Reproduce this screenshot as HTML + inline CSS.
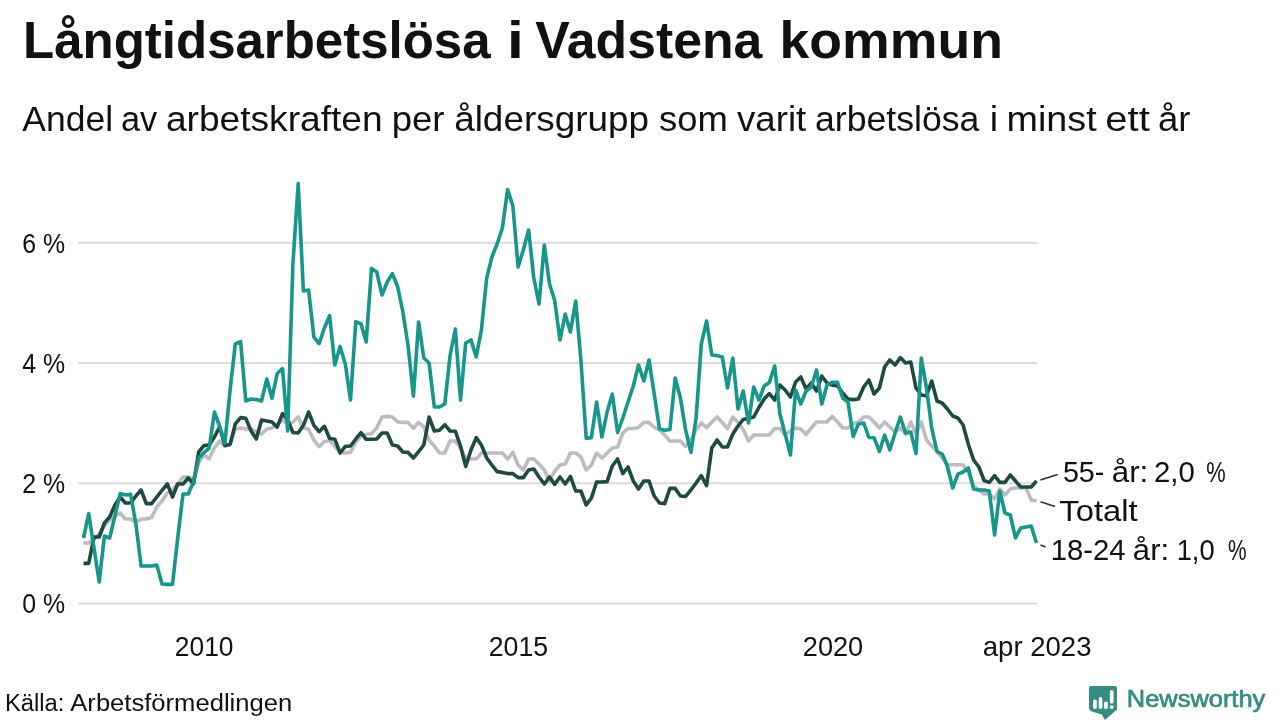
<!DOCTYPE html>
<html><head><meta charset="utf-8">
<style>
html,body{margin:0;padding:0;background:#fff;}
body{width:1280px;height:720px;overflow:hidden;position:relative;font-family:"Liberation Sans",sans-serif;}
svg{position:absolute;left:0;top:0;will-change:transform;}
text{font-family:"Liberation Sans",sans-serif;fill:#111;}
</style></head><body>
<svg width="1280" height="720" viewBox="0 0 1280 720">
<g stroke="#dbdbde" stroke-width="2"><line x1="78.3" y1="242.85" x2="1037" y2="242.85"/><line x1="78.3" y1="363.1" x2="1037" y2="363.1"/><line x1="78.3" y1="483.2" x2="1037" y2="483.2"/><line x1="78.3" y1="603.5" x2="1037" y2="603.5"/></g>
<g fill="none" stroke-width="3.6" stroke-linejoin="round" stroke-linecap="butt">
<polyline stroke="#bdbcc3" points="83.5,543.0 88.7,543.0 94.0,539.0 99.2,534.0 104.4,526.0 109.7,520.0 114.9,516.0 120.2,513.0 125.4,519.0 130.6,519.0 135.9,522.4 141.1,519.0 146.3,519.0 151.6,517.6 156.8,507.0 162.0,501.0 167.3,493.0 172.5,490.0 177.7,484.0 183.0,477.0 188.2,477.0 193.5,479.0 198.7,462.5 203.9,455.0 209.2,458.8 214.4,448.0 219.6,441.0 224.9,446.0 230.1,444.0 235.3,429.0 240.6,428.0 245.8,429.0 251.1,429.0 256.3,432.0 261.5,434.0 266.8,429.0 272.0,428.0 277.2,424.3 282.5,420.0 287.7,423.7 292.9,422.3 298.2,416.8 303.4,427.7 308.6,429.2 313.9,440.0 319.1,446.7 324.4,441.5 329.6,440.7 334.8,446.4 340.1,452.4 345.3,453.0 350.5,452.4 355.8,442.0 361.0,436.0 366.2,434.2 371.5,433.7 376.7,427.7 382.0,417.0 387.2,416.4 392.4,417.0 397.7,422.0 402.9,422.4 408.1,422.4 413.4,428.2 418.6,422.4 423.8,427.0 429.1,440.0 434.3,446.0 439.5,453.0 444.8,453.0 450.0,441.0 455.3,441.0 460.5,448.0 465.7,458.0 471.0,459.0 476.2,459.0 481.4,453.0 486.7,453.0 491.9,453.0 497.1,453.0 502.4,453.0 507.6,459.0 512.9,452.4 518.1,465.0 523.3,470.0 528.6,459.0 533.8,459.0 539.0,464.0 544.3,470.0 549.5,481.0 554.7,471.0 560.0,465.0 565.2,464.0 570.4,453.0 575.7,453.0 580.9,457.0 586.2,470.0 591.4,465.0 596.6,453.0 601.9,458.0 607.1,453.0 612.3,448.0 617.6,447.0 622.8,433.0 628.0,428.5 633.3,428.5 638.5,427.5 643.8,422.4 649.0,422.4 654.2,427.3 659.5,429.8 664.7,435.0 669.9,441.0 675.2,441.0 680.4,441.0 685.6,446.4 690.9,440.0 696.1,430.0 701.3,422.7 706.6,427.8 711.8,422.0 717.1,417.0 722.3,422.5 727.5,428.5 732.8,417.0 738.0,422.2 743.2,429.5 748.5,441.0 753.7,435.0 758.9,435.0 764.2,435.0 769.4,435.0 774.7,428.5 779.9,428.5 785.1,435.0 790.4,431.0 795.6,428.0 800.8,429.0 806.1,434.4 811.3,428.0 816.5,422.0 821.8,422.0 827.0,422.0 832.2,416.4 837.5,422.0 842.7,428.0 848.0,428.0 853.2,424.0 858.4,422.0 863.7,417.0 868.9,417.0 874.1,422.0 879.4,428.0 884.6,422.0 889.8,427.0 895.1,432.0 900.3,428.0 905.6,434.0 910.8,422.0 916.0,434.0 921.3,422.0 926.5,440.0 931.7,446.0 937.0,451.5 942.2,458.0 947.4,464.5 952.7,464.7 957.9,464.7 963.1,465.0 968.4,473.0 973.6,486.0 978.9,490.0 984.1,494.0 989.3,494.0 994.6,499.0 999.8,489.0 1005.0,495.0 1010.3,489.0 1015.5,488.0 1020.7,488.0 1026.0,488.0 1031.2,500.0 1036.5,501.0"/>
<polyline stroke="#1d4b42" points="83.5,563.4 88.7,563.4 94.0,537.0 99.2,537.0 104.4,523.0 109.7,517.0 114.9,505.0 120.2,497.0 125.4,503.0 130.6,503.0 135.9,496.0 141.1,490.0 146.3,503.6 151.6,503.6 156.8,497.0 162.0,490.4 167.3,484.0 172.5,497.0 177.7,484.0 183.0,484.0 188.2,478.0 193.5,484.0 198.7,452.0 203.9,445.6 209.2,445.0 214.4,437.0 219.6,427.0 224.9,445.6 230.1,444.4 235.3,424.0 240.6,417.6 245.8,418.4 251.1,431.0 256.3,439.0 261.5,420.0 266.8,421.0 272.0,422.0 277.2,427.2 282.5,413.6 287.7,420.0 292.9,432.5 298.2,433.0 303.4,425.3 308.6,412.0 313.9,425.3 319.1,431.7 324.4,426.3 329.6,438.5 334.8,439.2 340.1,453.0 345.3,446.4 350.5,446.0 355.8,439.0 361.0,432.7 366.2,439.3 371.5,439.3 376.7,439.0 382.0,433.0 387.2,433.0 392.4,445.0 397.7,446.0 402.9,452.0 408.1,452.4 413.4,458.0 418.6,451.6 423.8,445.0 429.1,417.0 434.3,431.0 439.5,430.2 444.8,424.7 450.0,431.0 455.3,431.2 460.5,446.0 465.7,466.4 471.0,450.0 476.2,437.6 481.4,445.0 486.7,458.0 491.9,465.0 497.1,471.6 502.4,472.4 507.6,473.6 512.9,473.6 518.1,477.6 523.3,477.6 528.6,470.0 533.8,469.0 539.0,477.0 544.3,484.0 549.5,477.0 554.7,484.4 560.0,477.0 565.2,484.0 570.4,476.4 575.7,491.0 580.9,491.0 586.2,505.0 591.4,498.0 596.6,482.0 601.9,482.0 607.1,481.6 612.3,466.0 617.6,459.0 622.8,473.6 628.0,467.0 633.3,481.0 638.5,489.0 643.8,481.0 649.0,481.0 654.2,496.0 659.5,503.0 664.7,503.6 669.9,488.4 675.2,488.4 680.4,496.0 685.6,496.4 690.9,490.0 696.1,483.0 701.3,475.6 706.6,485.6 711.8,448.0 717.1,440.0 722.3,447.0 727.5,447.0 732.8,434.0 738.0,426.0 743.2,419.5 748.5,418.2 753.7,417.0 758.9,407.5 764.2,399.0 769.4,393.6 774.7,400.0 779.9,385.0 785.1,390.0 790.4,397.0 795.6,382.0 800.8,377.0 806.1,389.0 811.3,383.0 816.5,391.0 821.8,376.0 827.0,383.0 832.2,385.0 837.5,386.0 842.7,393.0 848.0,399.0 853.2,399.6 858.4,399.0 863.7,387.0 868.9,380.0 874.1,394.0 879.4,388.0 884.6,367.0 889.8,360.0 895.1,365.0 900.3,357.6 905.6,363.0 910.8,362.0 916.0,388.0 921.3,395.0 926.5,396.0 931.7,381.0 937.0,401.0 942.2,403.0 947.4,409.0 952.7,416.0 957.9,418.0 963.1,425.0 968.4,444.5 973.6,460.0 978.9,467.0 984.1,480.5 989.3,482.4 994.6,475.6 999.8,482.4 1005.0,482.4 1010.3,475.0 1015.5,481.0 1020.7,487.0 1026.0,487.0 1031.2,487.0 1036.5,481.0"/>
<polyline stroke="#17968a" points="83.5,538.0 88.7,513.6 94.0,548.0 99.2,582.0 104.4,536.0 109.7,538.0 114.9,516.0 120.2,493.6 125.4,495.0 130.6,494.4 135.9,524.0 141.1,566.0 146.3,566.0 151.6,566.0 156.8,565.0 162.0,584.0 167.3,584.4 172.5,584.4 177.7,538.0 183.0,494.0 188.2,494.0 193.5,482.0 198.7,458.1 203.9,452.6 209.2,448.1 214.4,412.0 219.6,426.0 224.9,443.0 230.1,390.0 235.3,344.0 240.6,341.6 245.8,401.0 251.1,399.0 256.3,399.6 261.5,401.0 266.8,379.0 272.0,398.2 277.2,373.5 282.5,368.7 287.7,431.0 292.9,264.0 298.2,183.6 303.4,291.0 308.6,290.0 313.9,337.0 319.1,343.6 324.4,328.0 329.6,315.6 334.8,365.0 340.1,346.4 345.3,364.0 350.5,400.0 355.8,321.6 361.0,324.0 366.2,342.0 371.5,268.4 376.7,272.0 382.0,295.0 387.2,282.0 392.4,273.6 397.7,287.0 402.9,312.0 408.1,346.0 413.4,396.0 418.6,322.0 423.8,358.0 429.1,363.0 434.3,407.0 439.5,407.0 444.8,404.0 450.0,356.0 455.3,329.0 460.5,400.0 465.7,343.0 471.0,340.0 476.2,357.0 481.4,330.0 486.7,278.0 491.9,257.0 497.1,244.0 502.4,228.0 507.6,189.6 512.9,206.0 518.1,267.0 523.3,250.0 528.6,230.0 533.8,278.0 539.0,304.0 544.3,245.0 549.5,284.0 554.7,300.5 560.0,340.0 565.2,314.0 570.4,332.0 575.7,301.0 580.9,360.0 586.2,438.4 591.4,437.6 596.6,402.0 601.9,437.0 607.1,412.0 612.3,394.0 617.6,432.5 622.8,418.0 628.0,402.0 633.3,386.0 638.5,365.0 643.8,381.0 649.0,360.0 654.2,394.0 659.5,428.8 664.7,430.2 669.9,429.5 675.2,378.0 680.4,398.0 685.6,430.0 690.9,452.4 696.1,418.0 701.3,344.0 706.6,321.0 711.8,355.0 717.1,355.6 722.3,357.0 727.5,388.0 732.8,358.0 738.0,409.0 743.2,391.0 748.5,423.0 753.7,387.0 758.9,400.0 764.2,386.0 769.4,382.4 774.7,366.0 779.9,414.0 785.1,434.0 790.4,455.0 795.6,390.0 800.8,404.0 806.1,391.0 811.3,387.0 816.5,370.0 821.8,404.0 827.0,385.0 832.2,382.4 837.5,382.4 842.7,398.0 848.0,402.0 853.2,436.5 858.4,424.0 863.7,423.0 868.9,437.5 874.1,437.8 879.4,451.5 884.6,435.0 889.8,450.0 895.1,433.0 900.3,417.0 905.6,433.0 910.8,432.0 916.0,453.5 921.3,358.0 926.5,388.0 931.7,428.0 937.0,451.5 942.2,454.0 947.4,466.5 952.7,488.0 957.9,474.2 963.1,472.0 968.4,468.0 973.6,489.0 978.9,490.0 984.1,490.0 989.3,491.0 994.6,535.0 999.8,491.0 1005.0,513.0 1010.3,515.0 1015.5,538.0 1020.7,528.0 1026.0,527.0 1031.2,526.0 1036.5,543.0"/>
</g>
<g stroke-width="1.6" fill="none" stroke="#333">
<line x1="1040.5" y1="480" x2="1057.6" y2="474.4"/>
<line x1="1040.5" y1="501.8" x2="1055" y2="506.6"/>
<line x1="1040.5" y1="545" x2="1045.6" y2="547"/>
</g>
<text x="23.02" y="57.8" font-size="51.3" font-weight="bold" textLength="467.58" lengthAdjust="spacingAndGlyphs">Långtidsarbetslösa</text>
<text x="507.04" y="57.8" font-size="51.3" font-weight="bold" textLength="16.81" lengthAdjust="spacingAndGlyphs">i</text>
<text x="535.24" y="57.8" font-size="51.3" font-weight="bold" textLength="227.02" lengthAdjust="spacingAndGlyphs">Vadstena</text>
<text x="779.57" y="57.8" font-size="51.3" font-weight="bold" textLength="223.32" lengthAdjust="spacingAndGlyphs">kommun</text>
<text x="22.30" y="130.6" font-size="35.3" textLength="90.74" lengthAdjust="spacingAndGlyphs">Andel</text>
<text x="121.06" y="130.6" font-size="35.3" textLength="36.22" lengthAdjust="spacingAndGlyphs">av</text>
<text x="165.90" y="130.6" font-size="35.3" textLength="216.72" lengthAdjust="spacingAndGlyphs">arbetskraften</text>
<text x="391.68" y="130.6" font-size="35.3" textLength="52.84" lengthAdjust="spacingAndGlyphs">per</text>
<text x="454.16" y="130.6" font-size="35.3" textLength="194.83" lengthAdjust="spacingAndGlyphs">åldersgrupp</text>
<text x="658.97" y="130.6" font-size="35.3" textLength="68.80" lengthAdjust="spacingAndGlyphs">som</text>
<text x="737.00" y="130.6" font-size="35.3" textLength="69.21" lengthAdjust="spacingAndGlyphs">varit</text>
<text x="814.98" y="130.6" font-size="35.3" textLength="164.38" lengthAdjust="spacingAndGlyphs">arbetslösa</text>
<text x="989.88" y="130.6" font-size="35.3" textLength="8.33" lengthAdjust="spacingAndGlyphs">i</text>
<text x="1006.62" y="130.6" font-size="35.3" textLength="90.00" lengthAdjust="spacingAndGlyphs">minst</text>
<text x="1105.23" y="130.6" font-size="35.3" textLength="44.55" lengthAdjust="spacingAndGlyphs">ett</text>
<text x="1157.93" y="130.6" font-size="35.3" textLength="32.47" lengthAdjust="spacingAndGlyphs">år</text>
<text x="22.21" y="252.7" font-size="28" textLength="42.90" lengthAdjust="spacingAndGlyphs">6 %</text>
<text x="22.21" y="372.8" font-size="28" textLength="42.90" lengthAdjust="spacingAndGlyphs">4 %</text>
<text x="22.21" y="493.0" font-size="28" textLength="42.90" lengthAdjust="spacingAndGlyphs">2 %</text>
<text x="22.21" y="613.2" font-size="28" textLength="42.90" lengthAdjust="spacingAndGlyphs">0 %</text>
<text x="174.76" y="656.4" font-size="28" textLength="58.77" lengthAdjust="spacingAndGlyphs">2010</text>
<text x="488.75" y="656.4" font-size="28" textLength="59.39" lengthAdjust="spacingAndGlyphs">2015</text>
<text x="802.78" y="656.4" font-size="28" textLength="60.48" lengthAdjust="spacingAndGlyphs">2020</text>
<text x="982.77" y="656.4" font-size="28" textLength="108.76" lengthAdjust="spacingAndGlyphs">apr 2023</text>
<text x="1062.95" y="481.6" font-size="30" textLength="41.35" lengthAdjust="spacingAndGlyphs">55-</text>
<text x="1111.76" y="481.6" font-size="30" textLength="36.48" lengthAdjust="spacingAndGlyphs">år:</text>
<text x="1153.94" y="481.6" font-size="30" textLength="40.86" lengthAdjust="spacingAndGlyphs">2,0</text>
<text x="1206.37" y="481.6" font-size="30" textLength="19.43" lengthAdjust="spacingAndGlyphs">%</text>
<text x="1059.31" y="521.4" font-size="30" textLength="78.28" lengthAdjust="spacingAndGlyphs">Totalt</text>
<text x="1050.65" y="560.4" font-size="30" textLength="74.76" lengthAdjust="spacingAndGlyphs">18-24</text>
<text x="1132.86" y="560.4" font-size="30" textLength="36.26" lengthAdjust="spacingAndGlyphs">år:</text>
<text x="1176.68" y="560.4" font-size="30" textLength="37.97" lengthAdjust="spacingAndGlyphs">1,0</text>
<text x="1228.10" y="560.4" font-size="30" textLength="18.57" lengthAdjust="spacingAndGlyphs">%</text>
<text x="4.93" y="711" font-size="23" textLength="59.47" lengthAdjust="spacingAndGlyphs">Källa:</text>
<text x="70.30" y="711" font-size="23" textLength="221.92" lengthAdjust="spacingAndGlyphs">Arbetsförmedlingen</text>
<text x="1126.88" y="706.9" font-size="24" textLength="138.40" lengthAdjust="spacingAndGlyphs" style="fill:#368c83;stroke:#368c83;stroke-width:0.7">Newsworthy</text>
<path d="M1091,686 H1115 Q1117,686 1117,688 V709.6 L1104.9,720 L1101.8,714.4 L1092,711.5 Q1089,710.6 1089,707.6 V688 Q1089,686 1091,686 Z" fill="#368c83"/>
<g fill="#fff"><rect x="1093" y="699.4" width="3.8" height="9.5" rx="1.7"/><rect x="1098.7" y="697" width="3.7" height="11.9" rx="1.7"/><rect x="1104.1" y="701.4" width="3.8" height="7.5" rx="1.7"/><rect x="1109.9" y="690" width="3.6" height="13.6" rx="1.6"/><rect x="1109.9" y="705.3" width="3.6" height="3.6" rx="1.6"/></g>
</svg>
</body></html>
